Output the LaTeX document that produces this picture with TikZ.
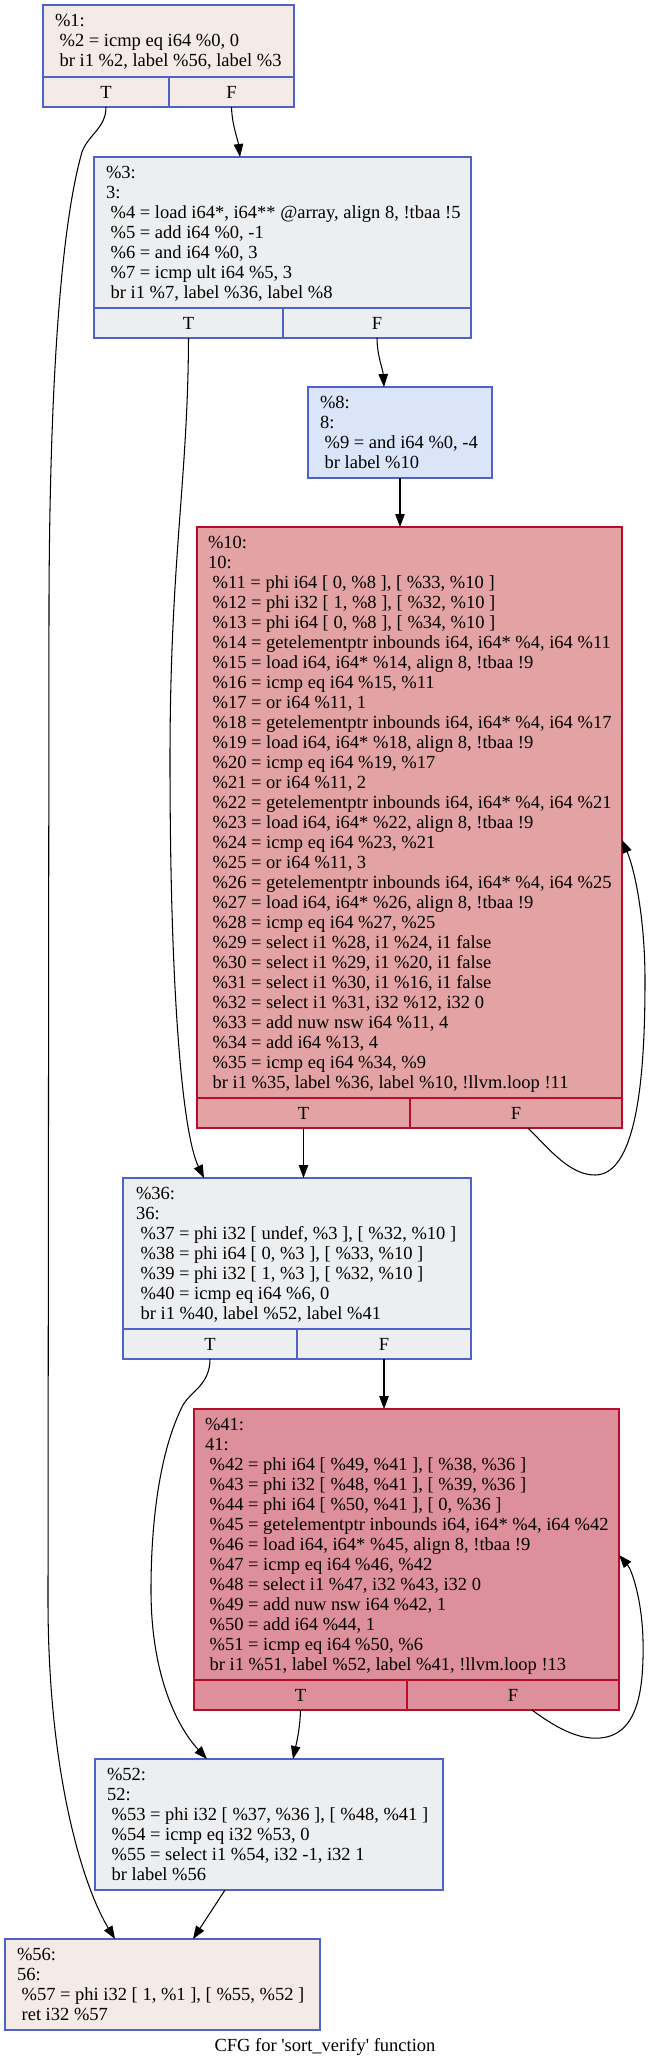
\documentclass[tikz,border=0pt]{standalone}
\usepackage{fontspec}
\setmainfont{Liberation Serif}
\usetikzlibrary{arrows.meta}
\definecolor{fillA}{HTML}{F4EBE7}
\definecolor{fillB}{HTML}{EDEEF0}
\definecolor{fillC}{HTML}{DBE5FA}
\definecolor{fillD}{HTML}{E3A3A4}
\definecolor{fillE}{HTML}{DD909B}
\definecolor{bblue}{HTML}{4F62C8}
\definecolor{bred}{HTML}{B70D28}
\newcommand\ind{\hspace*{0.25em}}
\newcommand\fst{\rule{0pt}{14pt}}
\begin{document}
\begin{tikzpicture}[x=1pt,y=-1pt,
  blk/.style={draw=bblue, line width=1.2pt, inner sep=0pt, outer sep=0pt, anchor=north west},
  redblk/.style={blk, draw=bred},
  cell/.style={blk, minimum height=30pt, font=\fontsize{18.5pt}{20pt}\selectfont},
  redcell/.style={cell, draw=bred},
  txt/.style={anchor=north west, inner sep=0pt, outer sep=0pt, align=left, font=\fontsize{18.5pt}{20pt}\selectfont},
  edge/.style={line width=1.05pt, -{Triangle[length=13pt,width=9.5pt]}}
]
\fill[white] (0,0) rectangle (651,2067);
\useasboundingbox (0,0) rectangle (651,2067);

% ---- %1
\node[blk, fill=fillA, minimum width=251pt, minimum height=102pt] (n1) at (43,5) {};
\node[cell, fill=fillA, minimum width=126pt] (n1t) at (43,77) {T};
\node[cell, fill=fillA, minimum width=125pt] (n1f) at (169,77) {F};
\node[txt] (n1x) at ([xshift=12pt,yshift=-7pt]n1.north west) {\fst\%1:\\
\ind\%2 = icmp eq i64 \%0, 0\\
\ind br i1 \%2, label \%56, label \%3};

% ---- %3
\node[blk, fill=fillB, minimum width=377pt, minimum height=181pt] (n3) at (94,157) {};
\node[cell, fill=fillB, minimum width=189pt] (n3t) at (94,308) {T};
\node[cell, fill=fillB, minimum width=188pt] (n3f) at (283,308) {F};
\node[txt] (n3x) at ([xshift=12pt,yshift=-7pt]n3.north west) {\fst\%3:\\
3:\\
\ind\%4 = load i64*, i64** @array, align 8, !tbaa !5\\
\ind\%5 = add i64 \%0, -1\\
\ind\%6 = and i64 \%0, 3\\
\ind\%7 = icmp ult i64 \%5, 3\\
\ind br i1 \%7, label \%36, label \%8};

% ---- %8
\node[blk, fill=fillC, minimum width=184pt, minimum height=91pt] (n8) at (308,387) {};
\node[txt] (n8x) at ([xshift=12pt,yshift=-7pt]n8.north west) {\fst\%8:\\
8:\\
\ind\%9 = and i64 \%0, -4\\
\ind br label \%10};

% ---- %10
\node[redblk, fill=fillD, minimum width=425pt, minimum height=601pt] (n10) at (197,527) {};
\node[redcell, fill=fillD, minimum width=213pt] (n10t) at (197,1098) {T};
\node[redcell, fill=fillD, minimum width=212pt] (n10f) at (410,1098) {F};
\node[txt] (n10x) at ([xshift=11pt,yshift=-7pt]n10.north west) {\fst\%10:\\
10:\\
\ind\%11 = phi i64 [ 0, \%8 ], [ \%33, \%10 ]\\
\ind\%12 = phi i32 [ 1, \%8 ], [ \%32, \%10 ]\\
\ind\%13 = phi i64 [ 0, \%8 ], [ \%34, \%10 ]\\
\ind\%14 = getelementptr inbounds i64, i64* \%4, i64 \%11\\
\ind\%15 = load i64, i64* \%14, align 8, !tbaa !9\\
\ind\%16 = icmp eq i64 \%15, \%11\\
\ind\%17 = or i64 \%11, 1\\
\ind\%18 = getelementptr inbounds i64, i64* \%4, i64 \%17\\
\ind\%19 = load i64, i64* \%18, align 8, !tbaa !9\\
\ind\%20 = icmp eq i64 \%19, \%17\\
\ind\%21 = or i64 \%11, 2\\
\ind\%22 = getelementptr inbounds i64, i64* \%4, i64 \%21\\
\ind\%23 = load i64, i64* \%22, align 8, !tbaa !9\\
\ind\%24 = icmp eq i64 \%23, \%21\\
\ind\%25 = or i64 \%11, 3\\
\ind\%26 = getelementptr inbounds i64, i64* \%4, i64 \%25\\
\ind\%27 = load i64, i64* \%26, align 8, !tbaa !9\\
\ind\%28 = icmp eq i64 \%27, \%25\\
\ind\%29 = select i1 \%28, i1 \%24, i1 false\\
\ind\%30 = select i1 \%29, i1 \%20, i1 false\\
\ind\%31 = select i1 \%30, i1 \%16, i1 false\\
\ind\%32 = select i1 \%31, i32 \%12, i32 0\\
\ind\%33 = add nuw nsw i64 \%11, 4\\
\ind\%34 = add i64 \%13, 4\\
\ind\%35 = icmp eq i64 \%34, \%9\\
\ind br i1 \%35, label \%36, label \%10, !llvm.loop !11};

% ---- %36
\node[blk, fill=fillB, minimum width=348pt, minimum height=181pt] (n36) at (123,1178) {};
\node[cell, fill=fillB, minimum width=174pt] (n36t) at (123,1329) {T};
\node[cell, fill=fillB, minimum width=174pt] (n36f) at (297,1329) {F};
\node[txt] (n36x) at ([xshift=13pt,yshift=-7pt]n36.north west) {\fst\%36:\\
36:\\
\ind\%37 = phi i32 [ undef, \%3 ], [ \%32, \%10 ]\\
\ind\%38 = phi i64 [ 0, \%3 ], [ \%33, \%10 ]\\
\ind\%39 = phi i32 [ 1, \%3 ], [ \%32, \%10 ]\\
\ind\%40 = icmp eq i64 \%6, 0\\
\ind br i1 \%40, label \%52, label \%41};

% ---- %41
\node[redblk, fill=fillE, minimum width=425pt, minimum height=301pt] (n41) at (194,1409) {};
\node[redcell, fill=fillE, minimum width=213pt] (n41t) at (194,1680) {T};
\node[redcell, fill=fillE, minimum width=212pt] (n41f) at (407,1680) {F};
\node[txt] (n41x) at ([xshift=11pt,yshift=-7pt]n41.north west) {\fst\%41:\\
41:\\
\ind\%42 = phi i64 [ \%49, \%41 ], [ \%38, \%36 ]\\
\ind\%43 = phi i32 [ \%48, \%41 ], [ \%39, \%36 ]\\
\ind\%44 = phi i64 [ \%50, \%41 ], [ 0, \%36 ]\\
\ind\%45 = getelementptr inbounds i64, i64* \%4, i64 \%42\\
\ind\%46 = load i64, i64* \%45, align 8, !tbaa !9\\
\ind\%47 = icmp eq i64 \%46, \%42\\
\ind\%48 = select i1 \%47, i32 \%43, i32 0\\
\ind\%49 = add nuw nsw i64 \%42, 1\\
\ind\%50 = add i64 \%44, 1\\
\ind\%51 = icmp eq i64 \%50, \%6\\
\ind br i1 \%51, label \%52, label \%41, !llvm.loop !13};

% ---- %52
\node[blk, fill=fillB, minimum width=348pt, minimum height=131pt] (n52) at (95,1759) {};
\node[txt] (n52x) at ([xshift=12pt,yshift=-7pt]n52.north west) {\fst\%52:\\
52:\\
\ind\%53 = phi i32 [ \%37, \%36 ], [ \%48, \%41 ]\\
\ind\%54 = icmp eq i32 \%53, 0\\
\ind\%55 = select i1 \%54, i32 -1, i32 1\\
\ind br label \%56};

% ---- %56
\node[blk, fill=fillA, minimum width=315pt, minimum height=91pt] (n56) at (5,1939) {};
\node[txt] (n56x) at ([xshift=12pt,yshift=-7pt]n56.north west) {\fst\%56:\\
56:\\
\ind\%57 = phi i32 [ 1, \%1 ], [ \%55, \%52 ]\\
\ind ret i32 \%57};

% ---- caption
\node[anchor=base, inner sep=0pt, font=\fontsize{18.5pt}{20pt}\selectfont] (cap) at (325,2051)
  {CFG for \textquotesingle sort\_verify\textquotesingle{} function};

% ---- edges
\draw[edge] (n1t.south) .. controls (106,128) and (88,135) .. (82,152)
  .. controls (64,215) and (50,350) .. (49,600) -- (48,1600)
  .. controls (48,1780) and (85,1890) .. ([xshift=110pt]n56.north west);
\draw[edge] (n1f.south) .. controls (232,125) and (238,140) .. ([xshift=146pt]n3.north west);
\draw[edge] (n3t.south) .. controls (188,480) and (170,560) .. (170,760)
  .. controls (170,1000) and (183,1135) .. ([xshift=81pt]n36.north west);
\draw[edge] (n3f.south) .. controls (377,355) and (383,370) .. ([xshift=76pt]n8.north west);
\draw[edge] (n8.south) -- (n8.south |- n10.north);
\draw[edge] (n10t.south) -- (n10t.south |- n36.north);
\draw[edge] ([xshift=118pt]n10f.south west) .. controls (550,1150) and (570,1175) .. (595,1175)
  .. controls (640,1175) and (645,1060) .. (645,980)
  .. controls (645,920) and (635,870) .. ([yshift=-12.5pt]n10.east);
\draw[edge] (n36t.south) .. controls (210,1385) and (190,1392) .. (183,1405)
  .. controls (160,1450) and (151,1520) .. (151,1590)
  .. controls (151,1680) and (180,1730) .. ([xshift=112pt]n52.north west);
\draw[edge] (n36f.south) -- (n36f.south |- n41.north);
\draw[edge] (n41t.south) .. controls (300,1730) and (296,1745) .. ([xshift=198pt]n52.north west);
\draw[edge] ([xshift=125pt]n41f.south west) .. controls (555,1727) and (578,1740) .. (600,1738)
  .. controls (638,1735) and (644,1690) .. (643,1640)
  .. controls (642,1600) and (632,1570) .. ([yshift=4.5pt]n41.east);
\draw[edge] ([xshift=130pt]n52.south west) -- ([xshift=188pt]n56.north west);
\end{tikzpicture}
\end{document}
